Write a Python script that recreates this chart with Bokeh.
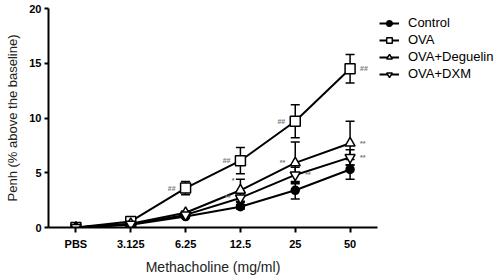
from bokeh.plotting import figure
from bokeh.models import (ColumnDataSource, Whisker, TeeHead, FixedTicker,
                          Legend, LegendItem)
from bokeh.core.properties import value
from bokeh.embed import file_html
from bokeh.resources import INLINE

# ---- data ----
categories = ["PBS", "3.125", "6.25", "12.5", "25", "50"]
control = [0.0, 0.25, 1.0, 1.9, 3.4, 5.3]
control_err = [0.0, 0.05, 0.1, 0.2, 0.8, 0.9]
ova = [0.0, 0.55, 3.6, 6.1, 9.7, 14.5]
ova_err = [0.0, 0.1, 0.6, 1.2, 1.5, 1.3]
deguelin = [0.0, 0.35, 1.35, 3.4, 5.9, 7.7]
deguelin_err = [0.0, 0.05, 0.15, 1.0, 1.9, 2.0]
dxm = [0.0, 0.3, 1.15, 2.7, 4.8, 6.4]
dxm_err = [0.0, 0.05, 0.15, 0.4, 0.7, 0.7]
y_ticks = [0, 5, 10, 15, 20]

# significance marks
ova_sig = ["", "", "##", "##", "##", "##"]
deguelin_sig = ["", "", "", "*", "**", "**"]
dxm_sig = ["", "", "", "**", "**", "**"]

FONT = "Liberation Sans"
xs = list(range(len(categories)))

p = figure(frame_width=329, frame_height=219, output_backend="svg",
           toolbar_location=None,
           x_range=(-0.5, 5.5), y_range=(0, 20),
           min_border_left=48, min_border_top=8, min_border_bottom=53,
           min_border_right=0)
p.outline_line_color = None
p.xgrid.visible = False
p.ygrid.visible = False
p.background_fill_color = "white"
p.border_fill_color = "white"

for ax in (p.xaxis[0], p.yaxis[0]):
    ax.axis_line_width = 2
    ax.axis_line_color = "black"
    ax.major_tick_line_width = 2
    ax.major_tick_line_color = "black"
    ax.minor_tick_line_color = None
    ax.major_tick_in = 0
    ax.major_label_text_font = FONT
    ax.major_label_text_font_style = "bold"
    ax.major_label_text_font_size = "11px"
    ax.major_label_text_color = "black"
    ax.axis_label_text_font = FONT
    ax.axis_label_text_font_style = "normal"
    ax.axis_label_text_color = "#222222"

p.xaxis.ticker = FixedTicker(ticks=xs)
p.xaxis.major_label_overrides = {i: c for i, c in zip(xs, categories)}
p.xaxis.major_tick_out = 5
p.xaxis.major_label_standoff = 5
p.xaxis.axis_label = "Methacholine (mg/ml)"
p.xaxis.axis_label_text_font_size = "14px"
p.xaxis.axis_label_standoff = 6

p.yaxis.ticker = FixedTicker(ticks=y_ticks)
p.yaxis.major_tick_out = 4
p.yaxis.major_label_standoff = 3
p.yaxis.axis_label = "Penh (% above the baseline)"
p.yaxis.axis_label_text_font_size = "13px"
p.yaxis.axis_label_standoff = 6

series = [
    ("Control", control, control_err, "circle", "black", 8),
    ("OVA", ova, ova_err, "square", "white", 10),
    ("OVA+Deguelin", deguelin, deguelin_err, "triangle", "white", 10),
    ("OVA+DXM", dxm, dxm_err, "inverted_triangle", "white", 10),
]

items = []
for name, vals, errs, marker, fill, size in series:
    src = ColumnDataSource(dict(
        x=xs, y=vals,
        lo=[v - e for v, e in zip(vals, errs)],
        hi=[v + e for v, e in zip(vals, errs)]))
    w = Whisker(source=src, base="x", upper="hi", lower="lo",
                line_color="black", line_width=1.5,
                upper_head=TeeHead(size=9, line_color="black", line_width=1.5),
                lower_head=TeeHead(size=9, line_color="black", line_width=1.5))
    p.add_layout(w)
    ln = p.line("x", "y", source=src, line_color="black", line_width=2)
    sc = p.scatter("x", "y", source=src, marker=marker, size=size,
                   fill_color=fill, line_color="black", line_width=1.5)
    items.append(LegendItem(label=name, renderers=[ln, sc]))


def sig_text(vals, sigs, keep, dx, dy, align):
    sx = [x for i, (x, s) in enumerate(zip(xs, sigs)) if s and i in keep]
    sy = [v for i, (v, s) in enumerate(zip(vals, sigs)) if s and i in keep]
    st = [s for i, s in enumerate(sigs) if s and i in keep]
    p.text(sx, sy, text=st, x_offset=dx, y_offset=dy, text_align=align,
           text_baseline="middle", text_font=value(FONT),
           text_font_size="7px", text_font_style="bold", text_color="#777777")


sig_text(ova, ova_sig, [2, 3, 4], -10, 0, "right")
sig_text(ova, ova_sig, [5], 10, 0, "left")
sig_text(deguelin, deguelin_sig, [3], -6, -10, "right")
sig_text(deguelin, deguelin_sig, [4], -10, 0, "right")
sig_text(deguelin, deguelin_sig, [5], 10, 0, "left")
sig_text(dxm, dxm_sig, [3], -10, 0, "right")
sig_text(dxm, dxm_sig, [4, 5], 10, 0, "left")

legend = Legend(items=items, location=(2, 146),
                label_text_font=FONT, label_text_font_size="13px",
                label_text_color="black", glyph_width=20, glyph_height=14,
                label_standoff=9, spacing=2, padding=2, margin=0,
                border_line_color=None, background_fill_alpha=0)
p.add_layout(legend, "right")

open("out.html", "w").write(file_html(p, INLINE))
